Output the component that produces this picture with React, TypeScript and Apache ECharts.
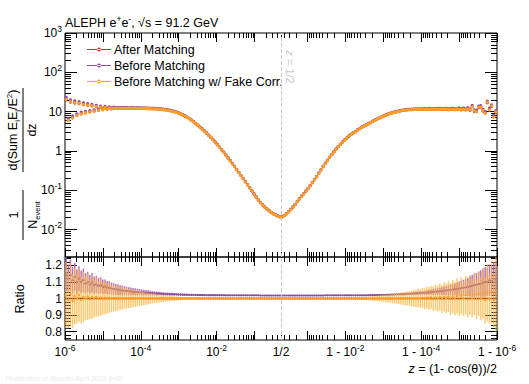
import React, { useEffect, useRef } from "react";
import * as echarts from "echarts";

const FONT = "Liberation Sans, Arial, Helvetica, sans-serif";

const SERIES_NAMES = ["After Matching", "Before Matching", "Before Matching w/ Fake Corr."];
const SERIES_COLORS = ["#e8262c", "#8e4b9e", "#ffa022"];
const BAR_COLORS = ["#e8262c", "#a865b8", "#ffb43c"];
const BAR_OPACITY = [1, 0.9, 0.72];

// 100 log bins per half: z in [1e-6, 1/2] then 1-z in [1/2, 1e-6]
const N_HALF = 100;

// After Matching, 1/N dSigma/dz, left half (z from 1e-6 up to 1/2)
const afterLeft = [
  20.0, 6.0, 17.5, 7.0, 16.5, 8.0, 16.0, 8.8, 15.0, 9.3,
  14.5, 9.8, 14.0, 10.3, 13.3, 10.8, 12.8, 11.2, 12.6, 11.5,
  12.4, 11.8, 12.3, 12.0, 12.2, 12.0, 12.2, 12.1, 12.2, 12.0,
  12.1, 12.2, 12.0, 12.1, 12.1, 12.0, 12.0, 12.0, 11.9, 11.9,
  11.8, 11.8, 11.7, 11.6, 11.5, 11.3, 11.1, 10.9, 10.6, 10.3,
  10.0, 9.6, 9.2, 8.7, 8.2, 7.7, 7.1, 6.6, 6.0, 5.5,
  4.95, 4.45, 4.0, 3.6, 3.2, 2.85, 2.5, 2.2, 1.93, 1.68,
  1.45, 1.25, 1.07, 0.92, 0.78, 0.66, 0.56, 0.47, 0.4, 0.335,
  0.28, 0.235, 0.196, 0.164, 0.137, 0.114, 0.096, 0.08, 0.067, 0.056,
  0.048, 0.042, 0.037, 0.033, 0.03, 0.027, 0.025, 0.0235, 0.022, 0.021,
];
// right half (1-z from 1/2 down to 1e-6)
const afterRight = [
  0.021, 0.0225, 0.025, 0.028, 0.032, 0.037, 0.043, 0.051, 0.06, 0.07,
  0.081, 0.095, 0.11, 0.13, 0.155, 0.185, 0.22, 0.27, 0.33, 0.4,
  0.48, 0.57, 0.68, 0.8, 0.94, 1.1, 1.28, 1.47, 1.68, 1.9,
  2.12, 2.37, 2.62, 2.86, 3.1, 3.4, 3.7, 4.0, 4.3, 4.6,
  4.9, 5.25, 5.6, 6.0, 6.4, 6.8, 7.2, 7.65, 8.1, 8.5,
  8.9, 9.25, 9.6, 9.9, 10.2, 10.45, 10.7, 10.9, 11.05, 11.2,
  11.3, 11.35, 11.4, 11.35, 11.4, 11.45, 11.5, 11.4, 11.6, 11.5,
  11.5, 11.4, 11.6, 11.5, 11.4, 11.6, 11.5, 11.3, 11.4, 11.6,
  11.2, 11.5, 11.7, 11.1, 11.6, 11.0, 11.8, 10.8, 13.3, 10.2,
  10.0, 12.6, 13.0, 10.4, 9.2, 16.8, 11.0, 13.5, 7.3, 9.5,
];

// Ratio Before Matching / After Matching
const ratioBeforeLeft = [
  1.15, 1.12, 1.14, 1.11, 1.13, 1.1, 1.12, 1.1, 1.11, 1.09,
  1.1, 1.085, 1.095, 1.08, 1.085, 1.075, 1.08, 1.07, 1.072, 1.066,
  1.065, 1.06, 1.058, 1.055, 1.053, 1.05, 1.049, 1.047, 1.046, 1.044,
  1.043, 1.041, 1.04, 1.039, 1.038, 1.037, 1.036, 1.035, 1.034, 1.033,
  1.032, 1.031, 1.03, 1.03, 1.029, 1.028, 1.027, 1.027, 1.026, 1.026,
  1.025, 1.025, 1.024, 1.024, 1.023, 1.023, 1.023, 1.022, 1.022, 1.022,
  1.022, 1.021, 1.021, 1.021, 1.021, 1.02, 1.02, 1.02, 1.02, 1.02,
  1.02, 1.02, 1.02, 1.02, 1.019, 1.019, 1.019, 1.019, 1.019, 1.019,
  1.019, 1.019, 1.019, 1.019, 1.019, 1.019, 1.019, 1.019, 1.019, 1.019,
  1.018, 1.018, 1.018, 1.018, 1.018, 1.018, 1.018, 1.018, 1.018, 1.018,
];
const ratioBeforeRight = [
  1.018, 1.018, 1.018, 1.018, 1.018, 1.018, 1.018, 1.018, 1.018, 1.018,
  1.018, 1.018, 1.018, 1.018, 1.018, 1.018, 1.018, 1.018, 1.018, 1.018,
  1.019, 1.019, 1.019, 1.019, 1.019, 1.019, 1.019, 1.019, 1.019, 1.019,
  1.019, 1.019, 1.019, 1.019, 1.019, 1.019, 1.019, 1.019, 1.019, 1.019,
  1.02, 1.02, 1.02, 1.021, 1.021, 1.021, 1.022, 1.022, 1.022, 1.023,
  1.023, 1.024, 1.024, 1.025, 1.025, 1.026, 1.026, 1.027, 1.028, 1.029,
  1.03, 1.031, 1.031, 1.032, 1.033, 1.034, 1.035, 1.036, 1.037, 1.038,
  1.039, 1.041, 1.042, 1.044, 1.045, 1.047, 1.048, 1.05, 1.052, 1.054,
  1.056, 1.058, 1.06, 1.062, 1.065, 1.067, 1.07, 1.073, 1.076, 1.08,
  1.083, 1.087, 1.09, 1.095, 1.1, 1.1, 1.11, 1.105, 1.12, 1.11,
];
const errBeforeLeft = [
  0.1, 0.085, 0.095, 0.08, 0.085, 0.075, 0.075, 0.068, 0.07, 0.062,
  0.062, 0.056, 0.058, 0.052, 0.052, 0.048, 0.048, 0.044, 0.043, 0.04,
  0.039, 0.036, 0.035, 0.033, 0.032, 0.03, 0.029, 0.027, 0.026, 0.024,
  0.023, 0.022, 0.021, 0.02, 0.019, 0.018, 0.017, 0.016, 0.015, 0.014,
  0.013, 0.012, 0.012, 0.011, 0.01, 0.01, 0.009, 0.009, 0.008, 0.008,
  0.007, 0.007, 0.006, 0.006, 0.006, 0.005, 0.005, 0.005, 0.005, 0.004,
  0.004, 0.004, 0.004, 0.004, 0.004, 0.0035, 0.0035, 0.0035, 0.0035, 0.0035,
  0.003, 0.003, 0.003, 0.003, 0.003, 0.003, 0.003, 0.003, 0.003, 0.003,
  0.003, 0.003, 0.003, 0.003, 0.003, 0.003, 0.003, 0.003, 0.003, 0.003,
  0.003, 0.003, 0.003, 0.003, 0.003, 0.003, 0.003, 0.003, 0.003, 0.003,
];
const errBeforeRight = [
  0.003, 0.003, 0.003, 0.003, 0.003, 0.003, 0.003, 0.003, 0.003, 0.003,
  0.003, 0.003, 0.003, 0.003, 0.003, 0.003, 0.003, 0.003, 0.003, 0.003,
  0.003, 0.003, 0.003, 0.003, 0.003, 0.003, 0.003, 0.003, 0.003, 0.003,
  0.003, 0.003, 0.003, 0.003, 0.003, 0.003, 0.003, 0.003, 0.003, 0.003,
  0.003, 0.003, 0.003, 0.003, 0.003, 0.003, 0.003, 0.003, 0.003, 0.003,
  0.004, 0.004, 0.004, 0.005, 0.005, 0.005, 0.006, 0.006, 0.007, 0.007,
  0.008, 0.008, 0.009, 0.01, 0.011, 0.012, 0.013, 0.014, 0.015, 0.016,
  0.018, 0.019, 0.021, 0.022, 0.024, 0.026, 0.028, 0.03, 0.032, 0.034,
  0.036, 0.039, 0.042, 0.045, 0.048, 0.051, 0.055, 0.06, 0.065, 0.07,
  0.07, 0.075, 0.08, 0.085, 0.09, 0.085, 0.095, 0.09, 0.1, 0.1,
];

// Ratio Before Matching w/ Fake Corr. / After Matching
const ratioFakeLeft = [
  1.02, 0.99, 1.025, 0.985, 1.015, 1.0, 1.02, 0.99, 1.01, 1.0,
  1.012, 0.995, 1.008, 1.0, 1.01, 0.998, 1.006, 1.0, 1.005, 1.0,
  1.004, 1.0, 1.003, 1.0, 1.002, 1.0, 1.002, 1.0, 1.001, 1.0,
  1.0, 1.0, 1.0, 1.0, 1.0, 1.0, 1.0, 1.0, 1.0, 1.0,
  1.0, 1.0, 1.0, 1.0, 1.0, 1.0, 1.0, 1.0, 1.0, 1.0,
  1.0, 1.0, 1.0, 1.0, 1.0, 1.0, 1.0, 1.0, 1.0, 1.0,
  1.0, 1.0, 1.0, 1.0, 1.0, 1.0, 1.0, 1.0, 1.0, 1.0,
  1.0, 1.0, 1.0, 1.0, 1.0, 1.0, 1.0, 1.0, 1.0, 1.0,
  1.0, 1.0, 1.0, 1.0, 1.0, 1.0, 1.0, 1.0, 1.0, 1.0,
  1.0, 1.0, 1.0, 1.0, 1.0, 1.0, 1.0, 1.0, 1.0, 1.0,
];
const ratioFakeRight = [
  1.0, 1.0, 1.0, 1.0, 1.0, 1.0, 1.0, 1.0, 1.0, 1.0,
  1.0, 1.0, 1.0, 1.0, 1.0, 1.0, 1.0, 1.0, 1.0, 1.0,
  1.0, 1.0, 1.0, 1.0, 1.0, 1.0, 1.0, 1.0, 1.0, 1.0,
  1.0, 1.0, 1.0, 1.0, 1.0, 1.0, 1.0, 1.0, 1.0, 1.0,
  1.0, 1.0, 1.0, 1.0, 1.0, 1.0, 1.0, 1.0, 1.0, 1.0,
  1.0, 1.0, 1.0, 1.0, 1.0, 1.0, 1.0, 1.0, 1.0, 1.0,
  1.0, 1.002, 0.999, 1.003, 1.0, 1.004, 0.998, 1.005, 1.0, 1.006,
  0.998, 1.007, 1.0, 1.008, 0.997, 1.01, 1.0, 1.012, 0.996, 1.013,
  1.0, 1.015, 0.995, 1.017, 1.0, 1.02, 0.995, 1.022, 1.0, 1.025,
  0.995, 1.028, 1.0, 1.03, 0.99, 1.035, 1.0, 1.04, 0.99, 1.03,
];
const errFakeLeft = [
  0.2, 0.17, 0.19, 0.16, 0.17, 0.15, 0.16, 0.14, 0.15, 0.13,
  0.14, 0.12, 0.13, 0.115, 0.12, 0.105, 0.11, 0.097, 0.1, 0.09,
  0.09, 0.083, 0.082, 0.076, 0.075, 0.069, 0.068, 0.063, 0.062, 0.057,
  0.056, 0.052, 0.05, 0.047, 0.045, 0.042, 0.04, 0.037, 0.035, 0.032,
  0.03, 0.028, 0.026, 0.024, 0.023, 0.021, 0.02, 0.018, 0.017, 0.015,
  0.014, 0.013, 0.012, 0.011, 0.01, 0.009, 0.0085, 0.008, 0.0075, 0.007,
  0.0065, 0.006, 0.0055, 0.005, 0.0045, 0.004, 0.004, 0.0035, 0.0035, 0.003,
  0.003, 0.003, 0.003, 0.003, 0.003, 0.003, 0.003, 0.003, 0.003, 0.003,
  0.0025, 0.0025, 0.0025, 0.0025, 0.0025, 0.0025, 0.0025, 0.0025, 0.0025, 0.0025,
  0.002, 0.002, 0.002, 0.002, 0.002, 0.002, 0.002, 0.002, 0.002, 0.002,
];
const errFakeRight = [
  0.003, 0.003, 0.003, 0.003, 0.003, 0.003, 0.003, 0.003, 0.003, 0.003,
  0.003, 0.003, 0.003, 0.003, 0.003, 0.003, 0.003, 0.003, 0.003, 0.003,
  0.003, 0.003, 0.003, 0.003, 0.003, 0.003, 0.003, 0.003, 0.003, 0.003,
  0.004, 0.004, 0.005, 0.005, 0.006, 0.006, 0.007, 0.008, 0.009, 0.01,
  0.011, 0.012, 0.013, 0.014, 0.016, 0.017, 0.019, 0.02, 0.022, 0.024,
  0.026, 0.028, 0.03, 0.032, 0.034, 0.036, 0.038, 0.04, 0.042, 0.045,
  0.047, 0.05, 0.052, 0.055, 0.057, 0.06, 0.062, 0.065, 0.068, 0.07,
  0.073, 0.076, 0.079, 0.082, 0.085, 0.088, 0.09, 0.093, 0.096, 0.1,
  0.1, 0.105, 0.1, 0.11, 0.105, 0.115, 0.11, 0.12, 0.115, 0.125,
  0.12, 0.135, 0.13, 0.15, 0.14, 0.17, 0.15, 0.19, 0.16, 0.23,
];

// Axis definitions
const X_LABEL_Z = [1e-6, 1e-4, 1e-2, 0.5, 1 - 1e-2, 1 - 1e-4, 1 - 1e-6];
const X_LABEL_TEXT = ["{b|10}{s|-6}", "{b|10}{s|-4}", "{b|10}{s|-2}", "{b|1/2}", "{b|1 - 10}{s|-2}", "{b|1 - 10}{s|-4}", "{b|1 - 10}{s|-6}"];
const Y_MIN = 0.002;
const Y_MAX = 1000;
const Y_LABEL_VALUES = [0.01, 0.1, 1, 10, 100, 1000];
const Y_LABEL_TEXT = ["{b|10}{s|-2}", "{b|10}{s|-1}", "{b|1}", "{b|10}", "{b|10}{s|2}", "{b|10}{s|3}"];
const R_MIN = 0.75;
const R_MAX = 1.25;
const R_LABEL_VALUES = [0.8, 0.9, 1.0, 1.1, 1.2];
const R_LABEL_TEXT = ["{b|0.8}", "{b|0.9}", "{b|1}", "{b|1.1}", "{b|1.2}"];

const UH = Math.log10(0.5) + 6;
const UMAX = 2 * UH;
const HALF_W = UH / N_HALF / 2;
const zToU = (z: number) => (z <= 0.5 ? Math.log10(z) + 6 : UMAX - (Math.log10(1 - z) + 6));
const binU = (i: number) => (i + 0.5) * (UH / N_HALF);

const xMajor: number[] = [];
const xMinor: number[] = [];
for (let n = 1; n <= 6; n++) {
  xMajor.push(6 - n, UMAX - (6 - n));
  for (let k = 2; k <= 9; k++) {
    const d = k * Math.pow(10, -n);
    if (d <= 0.5 + 1e-12) {
      const u = Math.log10(k) - n + 6;
      xMinor.push(u, UMAX - u);
    }
  }
}
const yMajor = Y_LABEL_VALUES.map((v) => Math.log10(v));
const yMinor: number[] = [];
for (let n = -3; n <= 2; n++) {
  for (let k = 2; k <= 9; k++) {
    const v = k * Math.pow(10, n);
    if (v >= Y_MIN && v <= Y_MAX) yMinor.push(Math.log10(v));
  }
}
const rMajor = R_LABEL_VALUES;
const rMinor: number[] = [];
for (let j = 38; j <= 62; j++) if (j % 5 !== 0) rMinor.push(j / 50);

const RICH = {
  b: { fontSize: 12, lineHeight: 18, fontFamily: FONT, color: "#000" },
  s: { fontSize: 8.5, verticalAlign: "top", fontFamily: FONT, color: "#000" },
};

function tickAxis(grid: number, position: string, min: number, max: number, values: number[], length: number, label?: any) {
  return {
    type: "value",
    gridIndex: grid,
    position,
    min,
    max,
    axisLine: { show: false, onZero: false },
    splitLine: { show: false },
    axisTick: { show: true, inside: true, length, customValues: values, lineStyle: { color: "#000", width: 1 } },
    axisLabel: label ? label : { show: false },
  };
}

export default function App() {
  const ref = useRef<HTMLDivElement>(null);
  useEffect(() => {
    if (!ref.current) return;
    const chart = echarts.init(ref.current, null, { renderer: "svg" });

    const after = afterLeft.concat(afterRight);
    const rBefore = ratioBeforeLeft.concat(ratioBeforeRight);
    const eBefore = errBeforeLeft.concat(errBeforeRight);
    const rFake = ratioFakeLeft.concat(ratioFakeRight);
    const eFake = errFakeLeft.concat(errFakeRight);

    const upperData = [
      after.map((v, i) => [binU(i), Math.log10(v)]),
      after.map((v, i) => [binU(i), Math.log10(v * rBefore[i])]),
      after.map((v, i) => [binU(i), Math.log10(v * rFake[i])]),
    ];
    const ratioData = [
      after.map((_, i) => [binU(i), 1, 0]),
      rBefore.map((r, i) => [binU(i), r, eBefore[i]]),
      rFake.map((r, i) => [binU(i), r, eFake[i]]),
    ];

    const upperRender = (color: string) => (params: any, api: any) => {
      const u = api.value(0);
      const v = api.value(1);
      const p = api.coord([u, v]);
      const a = api.coord([u - HALF_W, v]);
      const b = api.coord([u + HALF_W, v]);
      return {
        type: "group",
        children: [
          { type: "line", shape: { x1: a[0], y1: p[1], x2: b[0], y2: p[1] }, style: { stroke: color, lineWidth: 1.3 } },
          { type: "circle", shape: { cx: p[0], cy: p[1], r: 1.6 }, style: { fill: color } },
        ],
      };
    };
    const ratioRender = (color: string, barColor: string, barOpacity: number) => (params: any, api: any) => {
      const u = api.value(0);
      const r = api.value(1);
      const e = api.value(2);
      const p = api.coord([u, r]);
      const t = api.coord([u, r + e]);
      const bt = api.coord([u, r - e]);
      const a = api.coord([u - HALF_W, r]);
      const b = api.coord([u + HALF_W, r]);
      return {
        type: "group",
        children: [
          { type: "line", shape: { x1: p[0], y1: t[1], x2: p[0], y2: bt[1] }, style: { stroke: barColor, lineWidth: 1.5, opacity: barOpacity } },
          { type: "line", shape: { x1: a[0], y1: p[1], x2: b[0], y2: p[1] }, style: { stroke: color, lineWidth: 1.2 } },
          { type: "circle", shape: { cx: p[0], cy: p[1], r: 1.1 }, style: { fill: color } },
        ],
      };
    };

    const series: any[] = [];
    SERIES_NAMES.forEach((name, s) => {
      series.push({
        type: "custom",
        name,
        xAxisIndex: 0,
        yAxisIndex: 0,
        clip: true,
        itemStyle: { color: SERIES_COLORS[s] },
        renderItem: upperRender(SERIES_COLORS[s]),
        data: upperData[s],
        z: 3 + s,
        markLine:
          s === 0
            ? {
                silent: true,
                symbol: "none",
                label: { show: false },
                lineStyle: { type: "dashed", color: "#c8c8c8", width: 1 },
                data: [{ xAxis: UH }],
              }
            : undefined,
      });
    });
    SERIES_NAMES.forEach((name, s) => {
      if (s === 0) return;
      series.push({
        type: "custom",
        name,
        xAxisIndex: 4,
        yAxisIndex: 4,
        clip: true,
        itemStyle: { color: SERIES_COLORS[s] },
        renderItem: ratioRender(SERIES_COLORS[s], BAR_COLORS[s], BAR_OPACITY[s]),
        data: ratioData[s],
        z: 3 + s,
      });
    });
    series.push({
      type: "custom",
      name: SERIES_NAMES[0],
      xAxisIndex: 4,
      yAxisIndex: 4,
      clip: true,
      itemStyle: { color: SERIES_COLORS[0] },
      renderItem: ratioRender(SERIES_COLORS[0], BAR_COLORS[0], BAR_OPACITY[0]),
      data: ratioData[0],
      z: 2,
      markLine: {
        silent: true,
        symbol: "none",
        label: { show: false },
        data: [{ xAxis: UH, lineStyle: { type: "dashed", color: "#c8c8c8", width: 1 } }],
      },
    });
    series.push({
      type: "line",
      xAxisIndex: 4,
      yAxisIndex: 4,
      data: [],
      z: 10,
      markLine: {
        silent: true,
        symbol: "none",
        label: { show: false },
        lineStyle: { type: "solid", color: "#2a1608", width: 1.2 },
        data: [{ yAxis: 1 }],
      },
    });

    const xLabelU = X_LABEL_Z.map(zToU);
    const xLabel = {
      show: true,
      customValues: xLabelU,
      margin: 3,
      rich: RICH,
      formatter: (v: number) => {
        const idx = xLabelU.findIndex((u) => Math.abs(u - v) < 1e-6);
        return idx >= 0 ? X_LABEL_TEXT[idx] : "";
      },
    };
    const yLabel = {
      show: true,
      customValues: yMajor,
      margin: 3,
      rich: RICH,
      formatter: (v: number) => {
        const idx = yMajor.findIndex((u) => Math.abs(u - v) < 1e-6);
        return idx >= 0 ? Y_LABEL_TEXT[idx] : "";
      },
    };
    const rLabel = {
      show: true,
      customValues: rMajor,
      margin: 3,
      rich: RICH,
      formatter: (v: number) => {
        const idx = rMajor.findIndex((u) => Math.abs(u - v) < 1e-6);
        return idx >= 0 ? R_LABEL_TEXT[idx] : "";
      },
    };

    const yl0 = Math.log10(Y_MIN);
    const yl1 = Math.log10(Y_MAX);
    const xAxis = [
      tickAxis(0, "bottom", 0, UMAX, xMajor, 9),
      tickAxis(0, "bottom", 0, UMAX, xMinor, 5),
      tickAxis(0, "top", 0, UMAX, xMajor, 9),
      tickAxis(0, "top", 0, UMAX, xMinor, 5),
      tickAxis(1, "bottom", 0, UMAX, xMajor, 9, xLabel),
      tickAxis(1, "bottom", 0, UMAX, xMinor, 5),
      tickAxis(1, "top", 0, UMAX, xMajor, 9),
      tickAxis(1, "top", 0, UMAX, xMinor, 5),
    ];
    const yAxis = [
      tickAxis(0, "left", yl0, yl1, yMajor, 12, yLabel),
      tickAxis(0, "left", yl0, yl1, yMinor, 6),
      tickAxis(0, "right", yl0, yl1, yMajor, 12),
      tickAxis(0, "right", yl0, yl1, yMinor, 6),
      tickAxis(1, "left", R_MIN, R_MAX, rMajor, 12, rLabel),
      tickAxis(1, "left", R_MIN, R_MAX, rMinor, 6),
      tickAxis(1, "right", R_MIN, R_MAX, rMajor, 12),
      tickAxis(1, "right", R_MIN, R_MAX, rMinor, 6),
    ];

    const textBase = { fontFamily: FONT, fill: "#000" };
    const graphic: any[] = [
      {
        type: "text",
        x: 65,
        y: 23,
        style: {
          ...textBase,
          text: "{t|ALEPH e}{u|+}{t|e}{u|-}{t|, √s = 91.2 GeV}",
          verticalAlign: "middle",
          rich: {
            t: { fontSize: 12.5, lineHeight: 18, fontFamily: FONT },
            u: { fontSize: 8.5, verticalAlign: "top", fontFamily: FONT },
          },
        },
      },
      {
        type: "text",
        x: 290,
        y: 67,
        rotation: -Math.PI / 2,
        style: {
          fontFamily: FONT,
          fill: "#c8c8c8",
          text: "{i|z} = 1/2",
          fontSize: 11,
          align: "center",
          verticalAlign: "middle",
          rich: { i: { fontStyle: "italic", fontSize: 11, fontFamily: FONT, color: "#c8c8c8" } },
        },
      },
      {
        type: "text",
        x: 13,
        y: 130,
        rotation: Math.PI / 2,
        style: {
          ...textBase,
          text: "{t|d(Sum E}{d|i}{t|E}{d|j}{t|/E}{u|2}{t|)}",
          align: "center",
          verticalAlign: "middle",
          rich: {
            t: { fontSize: 12.5, lineHeight: 16, fontFamily: FONT },
            d: { fontSize: 8, verticalAlign: "bottom", fontFamily: FONT },
            u: { fontSize: 8, verticalAlign: "top", fontFamily: FONT },
          },
        },
      },
      { type: "line", shape: { x1: 23, y1: 88, x2: 23, y2: 172 }, style: { stroke: "#000", lineWidth: 1 } },
      {
        type: "text",
        x: 32,
        y: 130,
        rotation: Math.PI / 2,
        style: { ...textBase, text: "dz", fontSize: 12.5, align: "center", verticalAlign: "middle" },
      },
      { type: "line", shape: { x1: 23, y1: 190, x2: 23, y2: 240 }, style: { stroke: "#000", lineWidth: 1 } },
      {
        type: "text",
        x: 14,
        y: 215,
        rotation: Math.PI / 2,
        style: { ...textBase, text: "1", fontSize: 12.5, align: "center", verticalAlign: "middle" },
      },
      {
        type: "text",
        x: 33,
        y: 215,
        rotation: Math.PI / 2,
        style: {
          ...textBase,
          text: "{t|N}{d|event}",
          align: "center",
          verticalAlign: "middle",
          rich: {
            t: { fontSize: 12.5, lineHeight: 16, fontFamily: FONT },
            d: { fontSize: 7.5, verticalAlign: "bottom", fontFamily: FONT },
          },
        },
      },
      {
        type: "text",
        x: 20,
        y: 299,
        rotation: Math.PI / 2,
        style: { ...textBase, text: "Ratio", fontSize: 12.5, align: "center", verticalAlign: "middle" },
      },
      {
        type: "text",
        x: 497,
        y: 369,
        style: {
          ...textBase,
          text: "{i|z} = (1- cos(θ))/2",
          fontSize: 12.5,
          align: "right",
          verticalAlign: "middle",
          rich: { i: { fontStyle: "italic", fontSize: 12.5, fontFamily: FONT } },
        },
      },
      {
        type: "text",
        x: 5,
        y: 378,
        style: { fontFamily: FONT, fill: "#ececec", text: "Finalization of Results April 2025 (HB)", fontSize: 7, verticalAlign: "middle" },
      },
    ];

    const legendIcon = "path://M0,2h30v1h-30zM12.5,2.5a2.5,2.5 0 1,0 5,0a2.5,2.5 0 1,0 -5,0z";

    chart.setOption({
      animation: false,
      backgroundColor: "#fff",
      textStyle: { fontFamily: FONT },
      grid: [
        { left: 65, top: 33, width: 432, height: 224, show: true, borderColor: "#000", borderWidth: 1, backgroundColor: "transparent" },
        { left: 65, top: 257, width: 432, height: 83, show: true, borderColor: "#000", borderWidth: 1, backgroundColor: "transparent" },
      ],
      legend: {
        orient: "vertical",
        left: 82,
        top: 38,
        itemWidth: 24,
        itemHeight: 4,
        itemGap: 3,
        textStyle: { fontSize: 12.5, color: "#000", fontFamily: FONT, padding: [0, 0, 0, -2] },
        data: SERIES_NAMES.map((n, i) => ({ name: n, icon: legendIcon, itemStyle: { color: SERIES_COLORS[i] } })),
        selectedMode: false,
      },
      xAxis,
      yAxis,
      series,
      graphic,
    });
    return () => chart.dispose();
  }, []);
  return <div ref={ref} style={{ position: "fixed", left: 0, top: 0, width: 529, height: 384 }} />;
}
